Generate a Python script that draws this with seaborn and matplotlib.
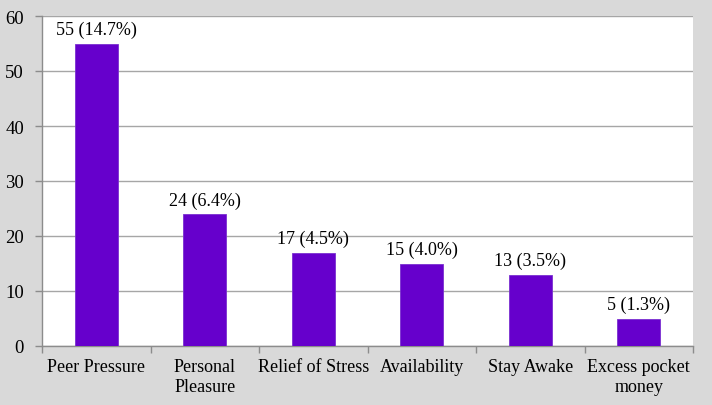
import matplotlib
matplotlib.use("Agg")
import matplotlib.pyplot as plt
import seaborn as sns
import pandas as pd

categories = ["Peer Pressure", "Personal\nPleasure", "Relief of Stress", "Availability", "Stay Awake", "Excess pocket\nmoney"]
counts = [55, 24, 17, 15, 13, 5]
percents = [14.7, 6.4, 4.5, 4.0, 3.5, 1.3]

sns.set_theme(style="white")
plt.rcParams['font.family'] = ['Liberation Serif', 'DejaVu Serif']

df = pd.DataFrame({"cat": categories, "n": counts})

fig = plt.figure(figsize=(7.12, 4.06), dpi=100, facecolor="#d9d9d9")
ax = fig.add_axes([42/712, 1 - 347/406, (693-42)/712, (347-17)/406])
ax.set_facecolor("white")

sns.barplot(data=df, x="cat", y="n", color="#6600cc", saturation=1, width=0.40, ax=ax,
            edgecolor="#7a30d0", linewidth=0.6, zorder=3)

ax.set_ylim(0, 60)
ax.set_xlim(-0.5, len(categories) - 0.5)
ax.set_yticks(range(0, 61, 10))
ax.yaxis.grid(True, color="#a6a6a6", linewidth=1.0, zorder=0)
ax.set_axisbelow(True)
ax.set_xlabel("")
ax.set_ylabel("")

for i, (c, p) in enumerate(zip(counts, percents)):
    ax.text(i, c + 1.0, f"{c} ({p:.1f}%)", ha="center", va="bottom", fontsize=13, color="black")

for s in ["top", "right"]:
    ax.spines[s].set_visible(False)
for s in ["left", "bottom"]:
    ax.spines[s].set_color("#8c8c8c")
    ax.spines[s].set_linewidth(1.0)

ax.tick_params(axis="y", which="major", left=True, length=5, width=1, color="#8c8c8c",
               labelsize=13.5, labelcolor="black", pad=8)
ax.tick_params(axis="x", which="major", bottom=False, labelsize=13, labelcolor="black", pad=3)
ax.set_xticks(range(len(categories)))
ax.set_xticklabels(categories, linespacing=1.2)
ax.set_xticks([i - 0.5 for i in range(len(categories) + 1)], minor=True)
ax.tick_params(axis="x", which="minor", bottom=True, length=5, width=1, color="#8c8c8c")

fig.savefig("out.png", dpi=100, facecolor=fig.get_facecolor())
